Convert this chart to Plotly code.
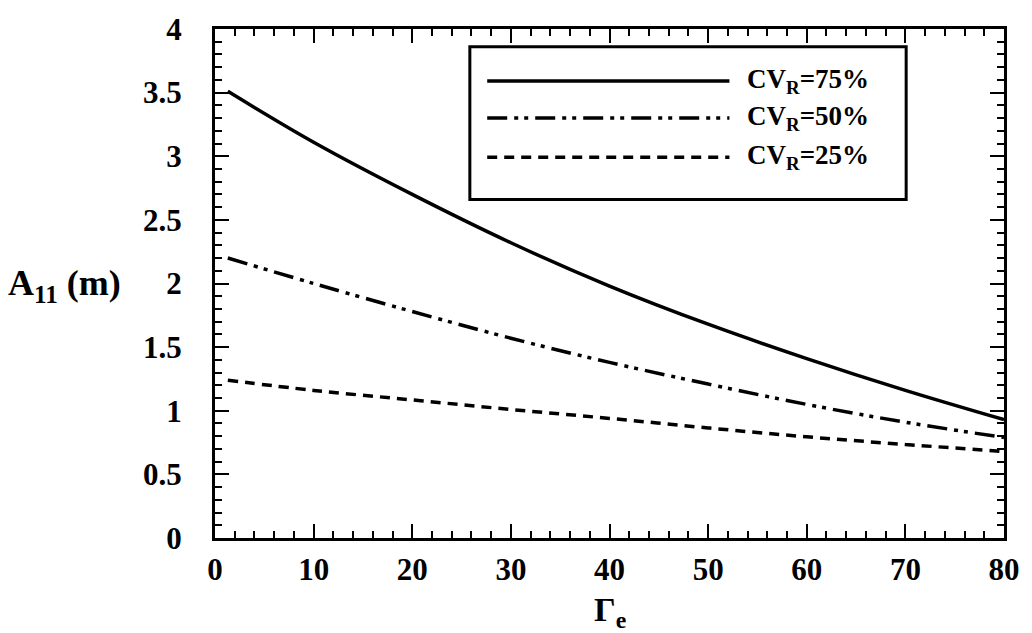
import plotly.graph_objects as go

gamma = [1.3, 10, 20, 30, 40, 50, 60, 70, 80]
cv75 = [3.51, 3.11, 2.70, 2.32, 1.98, 1.68, 1.41, 1.16, 0.93]
cv50 = [2.20, 2.00, 1.78, 1.57, 1.38, 1.21, 1.05, 0.91, 0.79]
cv25 = [1.24, 1.16, 1.085, 1.01, 0.94, 0.865, 0.795, 0.735, 0.68]

names = ["CV<sub>R</sub>=75%", "CV<sub>R</sub>=50%", "CV<sub>R</sub>=25%"]
dashes = ["solid", "20px,7px,4px,6px,4px,7px", "10px,7px"]
series = [cv75, cv50, cv25]

x_ticks = [0, 10, 20, 30, 40, 50, 60, 70, 80]
y_ticks = [0, 0.5, 1, 1.5, 2, 2.5, 3, 3.5, 4]
y_ticklabels = ["0", "0.5", "1", "1.5", "2", "2.5", "3", "3.5", "4"]

FONT = "Liberation Serif"

fig = go.Figure()
for ys, nm, ds in zip(series, names, dashes):
    fig.add_trace(go.Scatter(x=gamma, y=ys, mode="lines", name=nm, line_shape="spline",
                             line=dict(color="black", width=3.5, dash=ds), showlegend=False))

axis_common = dict(showline=True, linecolor="black", linewidth=3, mirror="ticks",
                   ticks="inside", ticklen=14, tickwidth=2, tickcolor="black",
                   showgrid=False, zeroline=False,
                   tickfont=dict(family=FONT, size=31, color="black", weight="bold"))

fig.update_xaxes(range=[0, 80], tickvals=x_ticks, ticktext=[str(v) for v in x_ticks],
                 minor=dict(ticks="inside", ticklen=7, tickwidth=2, dtick=2, tick0=0, tickcolor="black"),
                 ticklabelstandoff=2, **axis_common)
fig.update_yaxes(range=[0, 4], tickvals=y_ticks, ticktext=y_ticklabels,
                 minor=dict(ticks="inside", ticklen=7, tickwidth=2, dtick=0.1, tick0=0, tickcolor="black"),
                 ticklabelstandoff=24, **axis_common)

shapes = []
annotations = []
# manual legend box
shapes.append(dict(type="rect", xref="paper", yref="paper", x0=0.323, x1=0.876, y0=0.665, y1=0.965,
                   line=dict(color="black", width=3), fillcolor="white", layer="above"))
leg_y = [0.898, 0.825, 0.748]
for ly, nm, ds in zip(leg_y, names, dashes):
    shapes.append(dict(type="line", xref="paper", yref="paper", x0=0.345, x1=0.652, y0=ly, y1=ly,
                       line=dict(color="black", width=3.5, dash=ds), layer="above"))
    annotations.append(dict(xref="paper", yref="paper", x=0.672, y=ly, text=nm, showarrow=False,
                            xanchor="left", yanchor="middle",
                            font=dict(family=FONT, size=27, color="black", weight="bold")))

annotations.append(dict(xref="paper", yref="paper", x=-0.265, y=0.496, text="A<sub>11</sub>&nbsp;(m)",
                        showarrow=False, xanchor="left", yanchor="middle",
                        font=dict(family=FONT, size=36, color="black", weight="bold")))
annotations.append(dict(xref="paper", yref="paper", x=0.5, y=-0.1, text="Γ<sub>e</sub>",
                        showarrow=False, xanchor="center", yanchor="top",
                        font=dict(family=FONT, size=34, color="black", weight="bold")))

fig.update_layout(width=1032, height=633, margin=dict(l=215, r=20, t=18, b=95),
                  plot_bgcolor="white", paper_bgcolor="white",
                  shapes=shapes, annotations=annotations, showlegend=False)

fig.write_html("out.html")
